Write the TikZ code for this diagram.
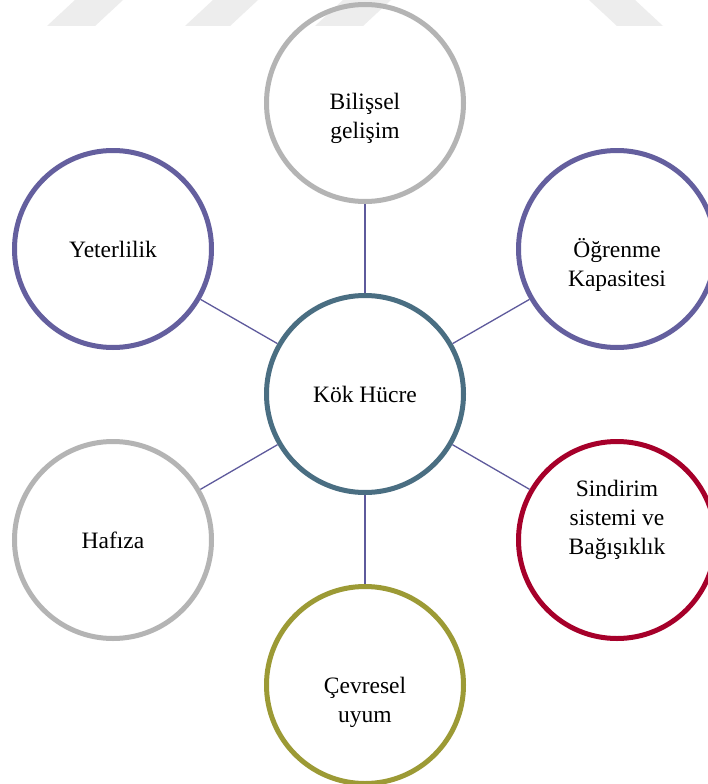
\documentclass[tikz,border=0pt]{standalone}
\usepackage{fontspec}
\setmainfont{Liberation Serif}
\definecolor{cgrey}{HTML}{B4B4B4}
\definecolor{cpurple}{HTML}{645F9E}
\definecolor{csteel}{HTML}{4A6E82}
\definecolor{cred}{HTML}{A6002A}
\definecolor{colive}{HTML}{9C9A35}
\definecolor{cline}{HTML}{5E5A9C}
\definecolor{wmark}{HTML}{EDEDED}
\tikzset{
  bubble/.style={circle, draw, line width=5pt, minimum size=197pt, inner sep=0pt},
  txt/.style={align=center, inner sep=0pt, font=\fontsize{23.5pt}{29pt}\selectfont},
  link/.style={draw=cline, line width=1.3pt}
}
\begin{document}
\begin{tikzpicture}[x=1pt,y=-1pt]
\useasboundingbox (0,0) rectangle (707,784);
\fill[white] (0,0) rectangle (707,784);
% watermark shapes
\fill[wmark] (47,26) -- (95,26) -- (123,0) -- (75,0) -- cycle;
\fill[wmark] (185,26) -- (230,26) -- (258,0) -- (213,0) -- cycle;
\fill[wmark] (315,26) -- (363,26) -- (391,0) -- (343,0) -- cycle;
\fill[wmark] (617,26) -- (663,26) -- (635,0) -- (589,0) -- cycle;
% circles
\node[bubble, draw=csteel] (kok) at (365,394) {};
\node[bubble, draw=cgrey] (bil) at (365,103) {};
\node[bubble, draw=cpurple] (ogr) at (617,249) {};
\node[bubble, draw=cred] (sin) at (617,540) {};
\node[bubble, draw=colive] (cev) at (365,685) {};
\node[bubble, draw=cgrey] (haf) at (113,540) {};
\node[bubble, draw=cpurple] (yet) at (113,249) {};
% texts
\node[txt] (tkok) at (kok.center) {Kök Hücre};
\node[txt, yshift=-15.5pt] (tbil) at (bil.center) {Bilişsel\\gelişim};
\node[txt, yshift=-15.5pt] (togr) at (ogr.center) {Öğrenme\\Kapasitesi};
\node[txt, yshift=20pt] (tsin) at (sin.center) {Sindirim\\sistemi ve\\Bağışıklık};
\node[txt, yshift=-17pt] (tcev) at (cev.center) {Çevresel\\uyum};
\node[txt] (thaf) at (haf.center) {Hafıza};
\node[txt] (tyet) at (yet.center) {Yeterlilik};
% links
\foreach \n in {bil,ogr,sin,cev,haf,yet}{
  \path[link] (kok) -- (\n);
}
\end{tikzpicture}
\end{document}
